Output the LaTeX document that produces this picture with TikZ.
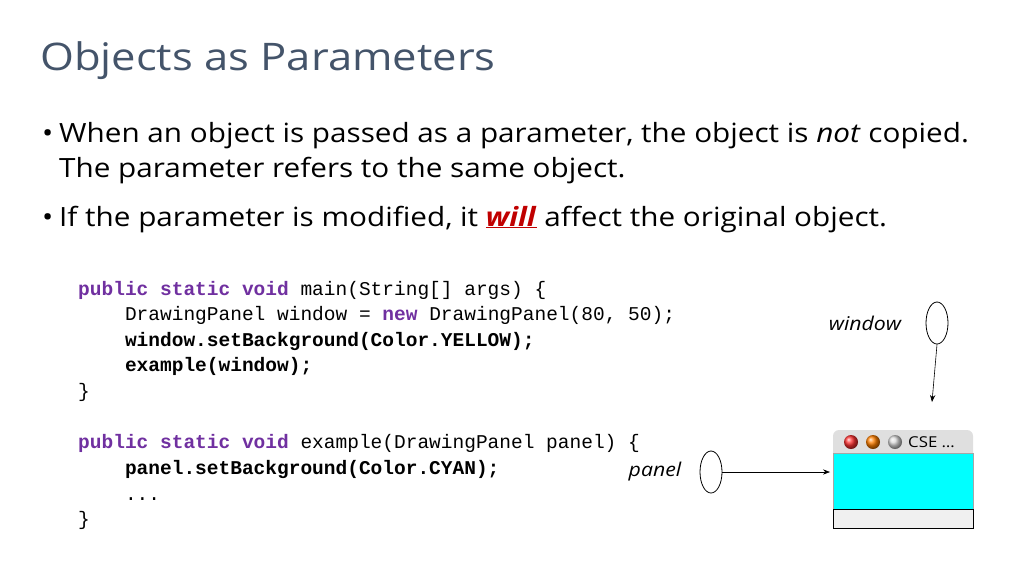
\documentclass[tikz,border=0pt]{standalone}
\usepackage{fontspec}
\setmainfont{Open Sans}[FakeStretch=1.12]
\newfontfamily\titlefont{Open Sans}[FakeStretch=1.146]
\setmonofont{Liberation Mono}
\usetikzlibrary{shapes.geometric,arrows.meta}
\definecolor{titlec}{HTML}{44546A}
\definecolor{kw}{HTML}{7030A0}
\definecolor{willc}{HTML}{C00000}
\definecolor{cyanc}{HTML}{00FFFF}
\begin{document}
\begin{tikzpicture}[x=1pt,y=-1pt,
  body/.style={anchor=base west,inner sep=0pt,font=\fontsize{26.5}{30}\selectfont},
  code/.style={anchor=base west,inner sep=0pt,font=\ttfamily\fontsize{19.5}{24}\selectfont},
  ref/.style={draw,ellipse,minimum width=22pt,minimum height=42pt,inner sep=0pt,thick},
  lbl/.style={font=\itshape\fontsize{19}{24}\selectfont,inner sep=0pt},
  arr/.style={-{Stealth[length=7pt]},semithick}]
\useasboundingbox (0,0) rectangle (1024,576);
\node[anchor=base west,inner sep=0pt,text=titlec,font=\titlefont\fontsize{38}{44}\selectfont] (title) at (40,70) {Objects as Parameters};
\node[body] (b1) at (42,142) {\textbullet};
\node[body] (l1) at (59,142) {When an object is passed as a parameter, the object is \textit{not} copied.};
\node[body] (l2) at (59,177) {The parameter refers to the same object.};
\node[body] (b2) at (42,226) {\textbullet};
\node[body] (l3) at (59,226) {If the parameter is modified, it \textcolor{willc}{\underline{\textbf{\textit{will}}}} affect the original object.};
\def\K#1{\textcolor{kw}{\textbf{#1}}}
\node[code] (c1) at (78,295) {\K{public static void} main(String[] args) \{};
\node[code] (c2) at (78,320) {\ \ \ \ DrawingPanel window = \K{new} DrawingPanel(80, 50);};
\node[code] (c3) at (78,346) {\ \ \ \ \textbf{window.setBackground(Color.YELLOW);}};
\node[code] (c4) at (78,371) {\ \ \ \ \textbf{example(window);}};
\node[code] (c5) at (78,397) {\}};
\node[code] (c6) at (78,448) {\K{public static void} example(DrawingPanel panel) \{};
\node[code] (c7) at (78,474) {\ \ \ \ \textbf{panel.setBackground(Color.CYAN);}};
\node[code] (c8) at (78,500) {\ \ \ \ ...};
\node[code] (c9) at (78,525) {\}};
% window icon
\fill[gray!25,rounded corners=6pt] (833,430) rectangle (973,460);
\fill[cyanc] (833,453) rectangle (973,509);
\draw[gray!70] (833,453) rectangle (973,509);
\draw[fill=gray!12,thick] (833,509) rectangle (973,528);
\shade[ball color=red!80] (851,442) circle (7);
\shade[ball color=orange] (873,442) circle (7);
\shade[ball color=gray!30] (895,442) circle (7);
\node[anchor=west,inner sep=0pt,font=\fontsize{15}{18}\selectfont] (cse) at (908,442) {CSE \dots};
\coordinate (wtop) at (932,402);
\coordinate (wleft) at (830,472);
\node[ref] (we) at (937,323) {};
\node[lbl] (wl) at (865,323) {window};
\node[ref] (pe) at (711,472) {};
\node[lbl] (pl) at (655,472) {panel};
\draw[arr] (we.south) -- (wtop);
\draw[arr] (pe.east) -- (wleft);
\end{tikzpicture}
\end{document}
